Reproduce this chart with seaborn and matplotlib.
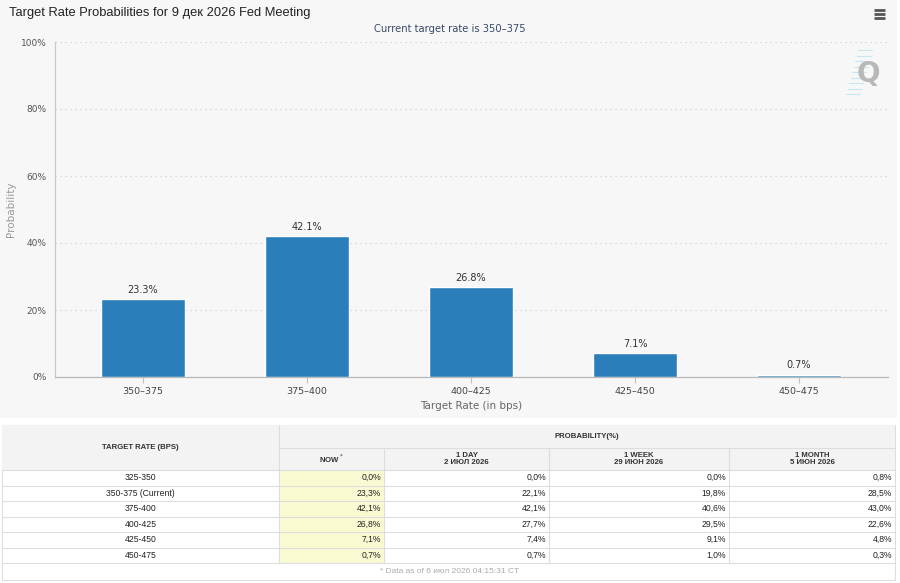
import matplotlib
matplotlib.use("Agg")
import matplotlib.pyplot as plt
import seaborn as sns
import pandas as pd
from matplotlib.patches import Rectangle
from matplotlib.ticker import FuncFormatter

# ================= DATA =================
rate_bins = ['350–375', '375–400', '400–425', '425–450', '450–475']
probabilities = [23.3, 42.1, 26.8, 7.1, 0.7]

table_rates = ['325-350', '350-375 (Current)', '375-400', '400-425', '425-450', '450-475']
now_vals = ['0,0%', '23,3%', '42,1%', '26,8%', '7,1%', '0,7%']
day_vals = ['0,0%', '22,1%', '42,1%', '27,7%', '7,4%', '0,7%']
week_vals = ['0,0%', '19,8%', '40,6%', '29,5%', '9,1%', '1,0%']
month_vals = ['0,8%', '28,5%', '43,0%', '22,6%', '4,8%', '0,3%']
col_headers = ['NOW', '1 DAY\n2 ИЮЛ 2026', '1 WEEK\n29 ИЮН 2026', '1 MONTH\n5 ИЮН 2026']

TITLE = 'Target Rate Probabilities for 9 дек 2026 Fed Meeting'
SUBTITLE = 'Current target rate is 350–375'
FOOTNOTE = '* Data as of 6 июл 2026 04:15:31 CT'

BAR_COLOR = '#2a7fba'
PANEL_BG = '#f7f7f7'
W, H = 900, 583


def main():
    sns.set_theme(style="white")
    plt.rcParams['font.family'] = ['DejaVu Sans']

    fig = plt.figure(figsize=(W / 100, H / 100), dpi=100)
    fig.patch.set_facecolor('white')

    # full-figure overlay in pixel coordinates for panel, table and decorations
    bg = fig.add_axes([0, 0, 1, 1], zorder=0)
    bg.set_xlim(0, W)
    bg.set_ylim(H, 0)
    bg.axis('off')
    bg.add_patch(Rectangle((0, 0), 897, 418, facecolor=PANEL_BG, edgecolor='none'))

    # ---------- bar chart ----------
    left, right, top, bottom = 55, 888, 42, 377
    ax = fig.add_axes([left / W, 1 - bottom / H, (right - left) / W, (bottom - top) / H], zorder=2)
    ax.set_facecolor(PANEL_BG)
    ax.patch.set_alpha(0)

    df = pd.DataFrame({'rate': rate_bins, 'prob': probabilities})
    sns.barplot(data=df, x='rate', y='prob', color=BAR_COLOR, saturation=1,
                width=0.51, ax=ax, zorder=3)
    for p, v in zip(ax.patches, probabilities):
        ax.text(p.get_x() + p.get_width() / 2, v + 1.3, f'{v:.1f}%',
                ha='center', va='bottom', fontsize=7, color='#333333', zorder=4)

    ax.set_xlim(-0.537, 4.543)
    ax.set_ylim(0, 100)
    ax.set_yticks([0, 20, 40, 60, 80, 100])
    ax.yaxis.set_major_formatter(FuncFormatter(lambda x, pos: f'{int(x)}%'))
    ax.tick_params(axis='y', labelsize=6.5, labelcolor='#555555', length=0, pad=6)
    ax.tick_params(axis='x', labelsize=6.8, labelcolor='#444444', length=4,
                   color='#c0c0c0', width=0.8, direction='out', pad=3, bottom=True)
    ax.grid(axis='y', color='#d0d0d0', linestyle=(0, (1, 3)), linewidth=0.9, zorder=0)
    for s in ['top', 'right']:
        ax.spines[s].set_visible(False)
    ax.spines['left'].set_color('#c8c8c8')
    ax.spines['bottom'].set_color('#b8b8b8')
    ax.spines['left'].set_linewidth(0.9)
    ax.spines['bottom'].set_linewidth(0.9)
    ax.set_xlabel('Target Rate (in bps)', fontsize=7.5, color='#666666', labelpad=4)
    ax.set_ylabel('Probability', fontsize=7.5, color='#999999')
    ax.yaxis.set_label_coords((16 - left) / (right - left), 0.5)

    # title, subtitle, menu icon, logo
    bg.text(9, 13, TITLE, fontsize=9.3, color='#222222', va='center', ha='left',
            family=['Liberation Sans', 'DejaVu Sans'])
    bg.text(450, 29, SUBTITLE, fontsize=7.2, color='#3a4a6a', va='center', ha='center')
    for dy in (-4, 0, 4):
        bg.plot([874, 885], [14 + dy, 14 + dy], color='#555555', lw=2, solid_capstyle='butt')
    bg.text(868, 74, 'Q', fontsize=20, fontweight='bold', color='#b8b8b8',
            ha='center', va='center', zorder=3)
    for i in range(9):
        bg.plot([846 + i * 1.5, 860 + i * 1.5], [94 - i * 5.5, 94 - i * 5.5],
                color='#c6e6f4', lw=0.8, zorder=2)

    # ---------- table ----------
    grid_c = '#dddddd'
    tfont = ['Liberation Sans', 'DejaVu Sans']
    x_cols = [2, 279, 384, 549, 729, 895]
    y_top, y_hdr1, y_hdr2 = 425, 448, 470
    row_h = 15.5
    n = len(table_rates)
    y_end = y_hdr2 + n * row_h
    y_foot = y_end + 17

    # frame shadow + header background
    bg.add_patch(Rectangle((x_cols[0] + 1, y_top + 1), x_cols[-1] - x_cols[0], y_foot - y_top,
                           facecolor='#e4e4e4', edgecolor='none', zorder=1))
    bg.add_patch(Rectangle((x_cols[0], y_top), x_cols[-1] - x_cols[0], y_foot - y_top,
                           facecolor='white', edgecolor=grid_c, lw=0.8, zorder=1))
    bg.add_patch(Rectangle((x_cols[0], y_top), x_cols[-1] - x_cols[0], y_hdr2 - y_top,
                           facecolor='#f3f3f3', edgecolor='none', zorder=1))
    bg.add_patch(Rectangle((x_cols[1], y_hdr2), x_cols[2] - x_cols[1], n * row_h,
                           facecolor='#fafad2', edgecolor='none', zorder=1))

    lines_kw = dict(color=grid_c, lw=0.8, zorder=2)
    bg.plot([x_cols[1], x_cols[-1]], [y_hdr1, y_hdr1], **lines_kw)
    for i in range(n + 1):
        y = y_hdr2 + i * row_h
        bg.plot([x_cols[0], x_cols[-1]], [y, y], **lines_kw)
    bg.plot([x_cols[1], x_cols[1]], [y_top, y_end], **lines_kw)
    for xc in x_cols[2:-1]:
        bg.plot([xc, xc], [y_hdr1, y_end], **lines_kw)

    hdr_kw = dict(fontsize=5.6, fontweight='bold', color='#333333', family=tfont,
                  ha='center', va='center', zorder=3, linespacing=1.1)
    bg.text((x_cols[0] + x_cols[1]) / 2, (y_top + y_hdr2) / 2, 'TARGET RATE (BPS)', **hdr_kw)
    bg.text((x_cols[1] + x_cols[-1]) / 2, (y_top + y_hdr1) / 2, 'PROBABILITY(%)', **hdr_kw)
    for j, h in enumerate(col_headers):
        label = h + '$^*$' if h == 'NOW' else h
        bg.text((x_cols[j + 1] + x_cols[j + 2]) / 2, (y_hdr1 + y_hdr2) / 2, label, **hdr_kw)

    cell_kw = dict(fontsize=6.2, color='#222222', family=tfont, va='center', zorder=3)
    for i in range(n):
        yc = y_hdr2 + (i + 0.5) * row_h
        bg.text((x_cols[0] + x_cols[1]) / 2, yc, table_rates[i], ha='center', **cell_kw)
        for j, col in enumerate([now_vals, day_vals, week_vals, month_vals]):
            bg.text(x_cols[j + 2] - 3, yc, col[i], ha='right', **cell_kw)

    bg.text(450, (y_end + y_foot) / 2, FOOTNOTE, fontsize=6.0, color='#aaaaaa',
            family=tfont, ha='center', va='center', zorder=3)

    fig.savefig('out.png', dpi=100, facecolor='white')


if __name__ == "__main__":
    main()
